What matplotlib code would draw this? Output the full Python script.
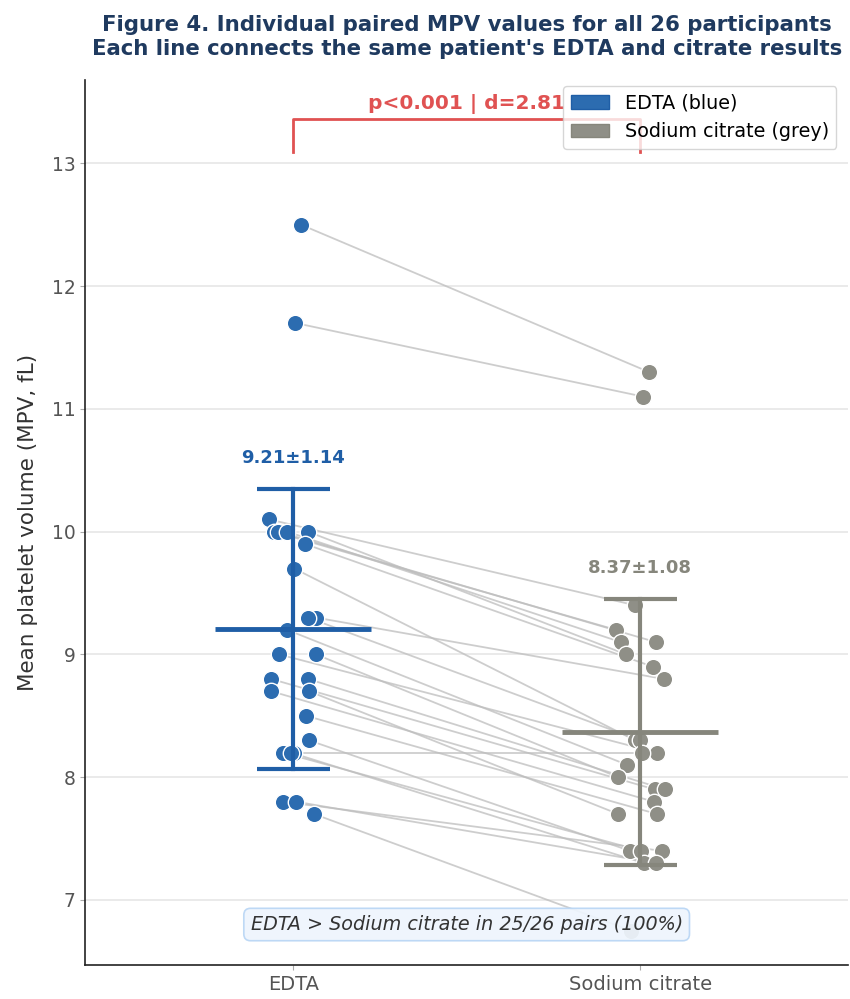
import matplotlib
matplotlib.use("Agg")
import matplotlib.pyplot as plt
import matplotlib.patches as mpatches
import numpy as np

# ---- data (paired MPV values, fL) ----
edta = [12.5, 11.7, 10.1, 10.0, 10.0, 10.0, 10.0, 9.9, 9.3, 9.7, 9.3, 9.2, 9.0,
        9.0, 8.8, 8.8, 8.7, 8.7, 8.5, 8.3, 8.2, 8.2, 8.2, 7.8, 7.8, 7.7]
citrate = [11.3, 11.1, 9.4, 9.2, 9.1, 9.1, 9.0, 8.9, 8.8, 8.3, 8.3, 8.1, 8.2,
           8.0, 7.9, 7.9, 7.8, 7.7, 7.7, 7.4, 8.2, 7.4, 7.3, 7.4, 7.3, 6.75]
# horizontal jitter
edta_jitter = [0.023, 0.006, -0.069, -0.055, -0.043, -0.017, 0.043, 0.034, 0.066,
               0.003, 0.043, -0.017, -0.040, 0.066, -0.063, 0.043, -0.063, 0.046,
               0.037, 0.046, 0.003, -0.029, -0.006, -0.029, 0.009, 0.060]
cit_jitter = [0.026, 0.009, -0.014, -0.069, 0.046, -0.055, -0.040, 0.037, 0.069,
              -0.014, 0.000, -0.037, 0.049, -0.063, 0.043, 0.072, 0.040, -0.063,
              0.049, -0.029, 0.006, 0.003, 0.011, 0.063, 0.046, -0.026]
groups = ["EDTA", "Sodium citrate"]
stat_text = "p<0.001 | d=2.81"
note_text = "EDTA > Sodium citrate in 25/26 pairs (100%)"

c_edta = "#2c6cb0"
c_edta_dark = "#1f5ea6"
c_cit = "#8f8f87"
c_cit_dark = "#86867c"
red = "#e05252"

fig = plt.figure(figsize=(8.5, 9.99), dpi=100)
ax = fig.add_axes([0.1, 0.034, 0.898, 0.886])

ex = np.array(edta_jitter) + 0
cx = np.array(cit_jitter) + 1
ev = np.array(edta)
cv = np.array(citrate)

for i in range(len(ev)):
    ax.plot([ex[i], cx[i]], [ev[i], cv[i]], color="#bdbdbd", lw=1.3, alpha=0.75, zorder=2)

ax.scatter(ex, ev, s=140, color=c_edta, edgecolor="white", linewidth=1.0, zorder=3)
ax.scatter(cx, cv, s=140, color=c_cit, edgecolor="white", linewidth=1.0, zorder=3)

for pos, vals, col in [(0, ev, c_edta_dark), (1, cv, c_cit_dark)]:
    m = vals.mean()
    sd = vals.std(ddof=1)
    ax.plot([pos - 0.225, pos + 0.225], [m, m], color=col, lw=3.5, zorder=4, solid_capstyle="butt")
    ax.plot([pos, pos], [m - sd, m + sd], color=col, lw=3, zorder=4)
    for yv in (m - sd, m + sd):
        ax.plot([pos - 0.105, pos + 0.105], [yv, yv], color=col, lw=3, zorder=4, solid_capstyle="butt")
    ax.text(pos, m + sd + 0.18, f"{m:.2f}±{sd:.2f}", ha="center", va="bottom",
            color=col, fontsize=13, fontweight="bold", zorder=5)

# significance bracket
ax.plot([0, 0, 1, 1], [13.09, 13.36, 13.36, 13.09], color=red, lw=2, zorder=2)
ax.text(0.5, 13.4, stat_text, ha="center", va="bottom", color=red,
        fontsize=14.5, fontweight="bold")

ax.text(0.5, 6.80, note_text, ha="center", va="center", fontsize=13.8, style="italic",
        color="#333333", zorder=6,
        bbox=dict(boxstyle="round,pad=0.35", facecolor="#eef5fd", edgecolor="#b9d6f5",
                  alpha=0.92, linewidth=1.2))

ax.set_xlim(-0.6, 1.6)
ax.set_ylim(6.47, 13.68)
ax.set_xticks([0, 1])
ax.set_xticklabels(groups, fontsize=14, color="#555555")
ax.set_yticks([7, 8, 9, 10, 11, 12, 13])
ax.tick_params(axis="y", labelsize=13.5, labelcolor="#555555", color="#aaaaaa")
ax.tick_params(axis="x", labelcolor="#555555", color="#aaaaaa")
ax.set_ylabel("Mean platelet volume (MPV, fL)", fontsize=15.5, color="#333333", labelpad=10)
ax.yaxis.grid(True, color="#e6e6e6", lw=1.2, zorder=0)
ax.set_axisbelow(True)
for s in ["top", "right"]:
    ax.spines[s].set_visible(False)
for s in ["left", "bottom"]:
    ax.spines[s].set_color("#222222")
    ax.spines[s].set_linewidth(1.2)

handles = [mpatches.Patch(facecolor=c_edta, edgecolor=c_edta_dark, label="EDTA (blue)"),
           mpatches.Patch(facecolor=c_cit, edgecolor=c_cit_dark, label="Sodium citrate (grey)")]
ax.legend(handles=handles, loc="upper right", fontsize=13.8, frameon=True,
          bbox_to_anchor=(0.997, 1.004))

ax.set_title("Figure 4. Individual paired MPV values for all 26 participants\n"
             "Each line connects the same patient's EDTA and citrate results",
             fontsize=15.3, fontweight="bold", color="#1f3a5f", pad=18, linespacing=1.25)

fig.savefig("out.png", dpi=100)
